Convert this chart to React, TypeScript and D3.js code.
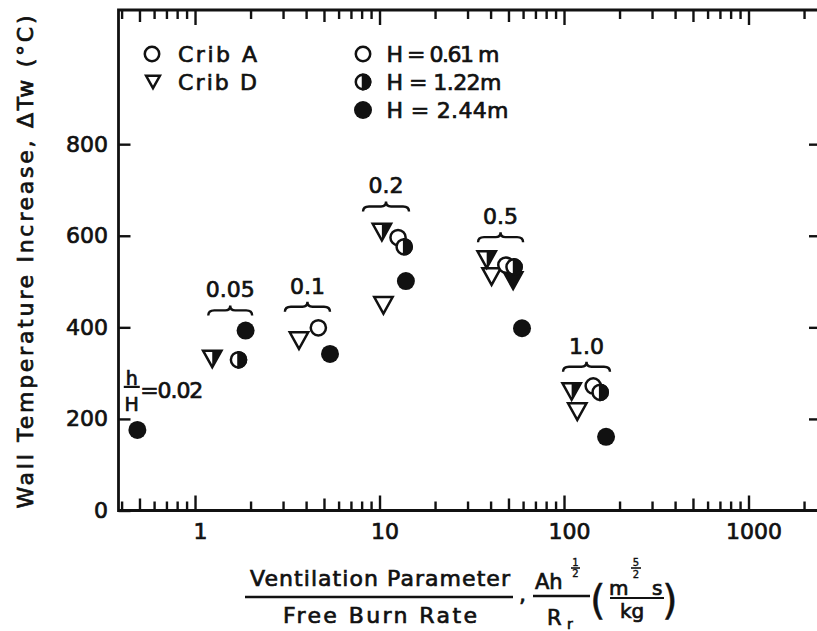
import React, { useEffect, useRef } from "react";
import * as d3 from "d3";

const W = 817;
const H = 631;

// Ventilation parameter / free burn rate (x) and wall temperature increase in °C (y),
// one pair of arrays per crib type and compartment height.
const cribA061X = [4.66, 12.6, 48.4, 144];
const cribA061Y = [399, 596, 536, 272];
const cribA122X = [1.72, 13.6, 53.6, 157];
const cribA122Y = [329, 576, 532, 258];
const cribA244X = [0.487, 1.88, 5.39, 13.9, 59.2, 169];
const cribA244Y = [176, 393, 342, 501, 398, 161];
const cribD061X = [3.66, 10.5, 40.5, 118];
const cribD061Y = [371, 448, 511, 216];
const cribD122X = [1.24, 10.3, 38.1, 110];
const cribD122Y = [331, 608, 548, 260];
const cribD244X = [53];
const cribD244Y = [502];

// h/H groups marked with a brace over the points
const groupLabels = ["0.05", "0.1", "0.2", "0.5", "1.0"];
const braceFrom = [1.18, 3.07, 8.14, 34.2, 98.8];
const braceTo = [2.04, 5.39, 14.45, 60, 177.5];
const braceLevel = [437, 445, 664, 597, 314];

// the single h/H = 0.02 point is labelled on its own
const lowRatioLabel = "=0.02";

const xLabelTicks = [1, 10, 100, 1000];
const yLabelTicks = [0, 200, 400, 600, 800];

type Shape = "circle" | "triangle";
type Fill = "open" | "half" | "full";

const series: { xs: number[]; ys: number[]; shape: Shape; fill: Fill }[] = [
  { xs: cribD061X, ys: cribD061Y, shape: "triangle", fill: "open" },
  { xs: cribD122X, ys: cribD122Y, shape: "triangle", fill: "half" },
  { xs: cribD244X, ys: cribD244Y, shape: "triangle", fill: "full" },
  { xs: cribA061X, ys: cribA061Y, shape: "circle", fill: "open" },
  { xs: cribA122X, ys: cribA122Y, shape: "circle", fill: "half" },
  { xs: cribA244X, ys: cribA244Y, shape: "circle", fill: "full" },
];

const INK = "#111";
const FONT = "'DejaVu Sans', 'Liberation Sans', sans-serif";
const TEXT_STROKE = 0.7;

function drawMarker(
  g: d3.Selection<SVGGElement, unknown, null, undefined>,
  cx: number,
  cy: number,
  shape: Shape,
  fill: Fill,
  size = 1
) {
  if (shape === "circle") {
    if (fill === "full") {
      g.append("circle").attr("cx", cx).attr("cy", cy).attr("r", 9 * size).attr("fill", INK);
      return;
    }
    const r = 7.6 * size;
    g.append("circle")
      .attr("cx", cx)
      .attr("cy", cy)
      .attr("r", r)
      .attr("fill", "#fff")
      .attr("stroke", INK)
      .attr("stroke-width", 2.5);
    if (fill === "half") {
      g.append("path")
        .attr("d", `M${cx},${cy - r} A${r},${r} 0 0 1 ${cx},${cy + r} Z`)
        .attr("fill", INK)
        .attr("stroke", INK)
        .attr("stroke-width", 2.5);
    }
  } else {
    const hw = 9.2 * size;
    const hh = 8.3 * size;
    const pts: [number, number][] = [
      [cx - hw, cy - hh],
      [cx + hw, cy - hh],
      [cx, cy + hh],
    ];
    g.append("polygon")
      .attr("points", pts.map((p) => p.join(",")).join(" "))
      .attr("fill", fill === "full" ? INK : "#fff")
      .attr("stroke", INK)
      .attr("stroke-width", 2.5)
      .attr("stroke-linejoin", "miter");
    if (fill === "half") {
      g.append("polygon")
        .attr("points", `${cx},${cy - hh} ${cx + hw},${cy - hh} ${cx},${cy + hh}`)
        .attr("fill", INK);
    }
  }
}

export default function App() {
  const ref = useRef<SVGSVGElement>(null);

  useEffect(() => {
    const svg = d3.select(ref.current);
    svg.selectAll("*").remove();
    const root = svg.append("g");

    const left = 118.5;
    const right = 817;
    const top = 10;
    const bottom = 510.5;

    const x = d3.scaleLog().domain([0.3848, 2351]).range([left, right]);
    const y = d3.scaleLinear().domain([0, 1093]).range([bottom, top]);

    // frame (left, top, bottom edges)
    root
      .append("path")
      .attr("d", `M${right},${top} H${left} V${bottom} H${right}`)
      .attr("fill", "none")
      .attr("stroke", INK)
      .attr("stroke-width", 2.8);

    const all = x.ticks().filter((v) => v >= x.domain()[0] && v <= x.domain()[1]);
    const mant = (v: number) => Math.round(v / Math.pow(10, Math.floor(Math.log10(v) + 1e-9)));
    const majors = all.filter((v) => mant(v) === 1);
    const fives = all.filter((v) => mant(v) === 5);
    const minors = all.filter((v) => mant(v) !== 1 && mant(v) !== 5);

    const styleAxis = (g: d3.Selection<SVGGElement, unknown, null, undefined>) => {
      g.select(".domain").remove();
      g.selectAll("line").attr("stroke", INK).attr("stroke-width", 2.4);
      g.selectAll("text")
        .attr("fill", INK)
        .attr("stroke", INK)
        .attr("stroke-width", TEXT_STROKE)
        .attr("font-family", FONT)
        .attr("font-size", 22);
    };

    const none = () => "";
    // log ticks on the bottom and top edges, pointing inward
    const addX = (isTop: boolean) => {
      const mk = isTop ? d3.axisTop : d3.axisBottom;
      const yPos = isTop ? top : bottom;
      [
        { vals: minors, len: 9 },
        { vals: fives, len: 12 },
        { vals: majors, len: 15 },
      ].forEach(({ vals, len }) => {
        const g = root.append("g").attr("transform", `translate(0,${yPos})`);
        g.call(mk(x).tickValues(vals).tickSize(-len).tickFormat(none as any));
        styleAxis(g);
      });
    };
    addX(false);
    addX(true);

    const xl = root.append("g").attr("transform", `translate(5,${bottom})`);
    xl.call(
      d3
        .axisBottom(x)
        .tickValues(xLabelTicks)
        .tickSize(0)
        .tickPadding(13)
        .tickFormat(d3.format("d") as any)
    );
    styleAxis(xl);

    const yl = root.append("g").attr("transform", `translate(${left},0)`);
    yl.call(d3.axisLeft(y).tickValues(yLabelTicks).tickSize(-12).tickPadding(10.5));
    styleAxis(yl);

    const yr = root.append("g").attr("transform", `translate(${right},0)`);
    yr.call(d3.axisRight(y).tickValues(yLabelTicks.slice(1)).tickSize(-8).tickFormat(none as any));
    styleAxis(yr);

    // data points
    const pg = root.append("g");
    series.forEach((s) => {
      s.xs.forEach((xv, i) => drawMarker(pg, x(xv), y(s.ys[i]), s.shape, s.fill));
    });

    const label = (g: d3.Selection<SVGGElement, unknown, null, undefined>) =>
      g
        .append("text")
        .attr("font-family", FONT)
        .attr("fill", INK)
        .attr("stroke", INK)
        .attr("stroke-width", TEXT_STROKE);

    // braces and h/H labels
    const ag = root.append("g");
    groupLabels.forEach((lab, i) => {
      const x0 = x(braceFrom[i]);
      const x1 = x(braceTo[i]);
      const xc = (x0 + x1) / 2;
      const yb = y(braceLevel[i]);
      const d = `M${x0},${yb + 5} Q${x0},${yb} ${x0 + 6},${yb} L${xc - 5},${yb} Q${xc},${yb} ${xc},${yb - 5} Q${xc},${yb} ${xc + 5},${yb} L${x1 - 6},${yb} Q${x1},${yb} ${x1},${yb + 5}`;
      ag.append("path").attr("d", d).attr("fill", "none").attr("stroke", INK).attr("stroke-width", 2.4);
      label(ag)
        .attr("x", xc)
        .attr("y", yb - 21 + 8)
        .attr("text-anchor", "middle")
        .attr("font-size", 22)
        .text(lab);
    });

    // h/H = 0.02 label next to the lowest point
    const px = x(cribA244X[0]);
    const py = y(cribA244Y[0]);
    const hx = px - 5.6;
    label(ag).attr("x", hx).attr("y", py - 45).attr("text-anchor", "middle").attr("font-size", 19).text("h");
    ag.append("line")
      .attr("x1", hx - 8)
      .attr("x2", hx + 8)
      .attr("y1", py - 43)
      .attr("y2", py - 43)
      .attr("stroke", INK)
      .attr("stroke-width", 2.2);
    label(ag).attr("x", hx).attr("y", py - 19).attr("text-anchor", "middle").attr("font-size", 19).text("H");
    label(ag)
      .attr("x", hx + 8.5)
      .attr("y", py - 32)
      .attr("font-size", 22)
      .attr("textLength", 63)
      .text(lowRatioLabel);

    // legend
    const lg = root.append("g");
    const legendText = (tx: number, cy: number, s: string, len: number) =>
      label(lg)
        .attr("x", tx)
        .attr("y", cy + 8)
        .attr("font-size", 22)
        .attr("textLength", len)
        .text(s);
    drawMarker(lg, 152, 54, "circle", "open", 0.95);
    legendText(178, 54, "Crib  A", 79);
    drawMarker(lg, 153, 82, "triangle", "open", 0.75);
    legendText(178, 82, "Crib  D", 79);
    drawMarker(lg, 363, 54, "circle", "open", 0.95);
    legendText(386.5, 54, "H = 0.61 m", 113);
    drawMarker(lg, 363, 82, "circle", "half", 0.95);
    legendText(386.5, 82, "H = 1.22m", 115);
    drawMarker(lg, 363, 110, "circle", "full", 1);
    legendText(386.5, 110, "H = 2.44m", 122);

    // y-axis title
    label(root)
      .attr("transform", "translate(25,262) rotate(-90)")
      .attr("text-anchor", "middle")
      .attr("dominant-baseline", "central")
      .attr("font-size", 22)
      .attr("textLength", 493)
      .text("Wall Temperature Increase, \u0394Tw  (\u00B0C)");

    // x-axis title: ratio of ventilation parameter to free burn rate
    const tg = root
      .append("g")
      .attr("font-family", FONT)
      .attr("fill", INK)
      .attr("stroke", INK)
      .attr("stroke-width", TEXT_STROKE);
    tg.append("text").attr("x", 380).attr("y", 586).attr("text-anchor", "middle").attr("font-size", 22).attr("textLength", 260).text("Ventilation Parameter");
    tg.append("line").attr("x1", 245).attr("x2", 513).attr("y1", 597).attr("y2", 597).attr("stroke-width", 2.4);
    tg.append("text").attr("x", 380).attr("y", 623).attr("text-anchor", "middle").attr("font-size", 22).attr("textLength", 194).text("Free Burn Rate");
    tg.append("text").attr("x", 519).attr("y", 602).attr("font-size", 22).text(",");
    tg.append("text").attr("x", 535).attr("y", 589).attr("font-size", 21).text("Ah");
    tg.append("text").attr("x", 575.5).attr("y", 566).attr("text-anchor", "middle").attr("font-size", 10).attr("stroke-width", 0.4).text("1");
    tg.append("line").attr("x1", 571).attr("x2", 580).attr("y1", 568).attr("y2", 568).attr("stroke-width", 1.6);
    tg.append("text").attr("x", 575.5).attr("y", 577).attr("text-anchor", "middle").attr("font-size", 10).attr("stroke-width", 0.4).text("2");
    tg.append("line").attr("x1", 533).attr("x2", 590).attr("y1", 596).attr("y2", 596).attr("stroke-width", 2.4);
    tg.append("text").attr("x", 547).attr("y", 625).attr("font-size", 21).text("R");
    tg.append("text").attr("x", 567).attr("y", 629).attr("font-size", 14).text("r");
    tg.append("text").attr("x", 590).attr("y", 614).attr("font-size", 40).attr("stroke-width", 0.4).text("(");
    tg.append("text").attr("x", 609).attr("y", 595).attr("font-size", 20).text("m");
    tg.append("text").attr("x", 636).attr("y", 566).attr("text-anchor", "middle").attr("font-size", 10).attr("stroke-width", 0.4).text("5");
    tg.append("line").attr("x1", 631).attr("x2", 641).attr("y1", 568).attr("y2", 568).attr("stroke-width", 1.6);
    tg.append("text").attr("x", 636).attr("y", 578).attr("text-anchor", "middle").attr("font-size", 10).attr("stroke-width", 0.4).text("2");
    tg.append("text").attr("x", 652).attr("y", 595).attr("font-size", 20).text("s");
    tg.append("line").attr("x1", 610).attr("x2", 664).attr("y1", 598).attr("y2", 598).attr("stroke-width", 2.2);
    tg.append("text").attr("x", 620).attr("y", 618).attr("font-size", 20).text("kg");
    tg.append("text").attr("x", 662).attr("y", 614).attr("font-size", 40).attr("stroke-width", 0.4).text(")");
  }, []);

  return (
    <svg
      ref={ref}
      width={W}
      height={H}
      viewBox={`0 0 ${W} ${H}`}
      style={{ position: "absolute", left: 0, top: 0, background: "#fff", display: "block" }}
    />
  );
}
